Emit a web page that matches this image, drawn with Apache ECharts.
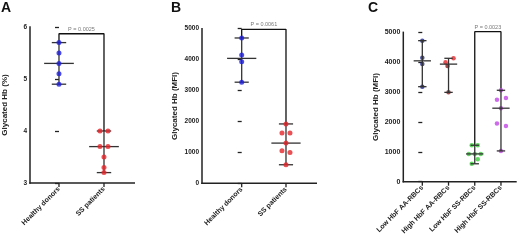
<!DOCTYPE html>
<html>
<head>
<meta charset="utf-8">
<script src="https://cdn.jsdelivr.net/npm/echarts@6.0.0/dist/echarts.min.js"></script>
<style>
  html, body { margin: 0; padding: 0; background: #fff; }
  #chart { width: 520px; height: 242px; }
</style>
</head>
<body>
<div id="chart"></div>
<script>
// panel A - glycated Hb (%)
const groupsA = ["Healthy donors", "SS patients"];
const healthyA = [5.7, 5.5, 5.3, 5.1, 4.9];
const ssA = [4.0, 4.0, 3.7, 3.7, 3.5, 3.3, 3.2];
const pTextA = "P = 0.0025";
const bracketA = 5.87;

// panel B - glycated Hb (MFI)
const groupsB = ["Healthy donors", "SS patients"];
const healthyB = [4700, 4150, 3930, 3270];
const ssB = [1920, 1630, 1630, 1300, 1050, 1000, 600];
const pTextB = "P = 0.0061";
const bracketB = 4980;

// panel C - by HbF level
const groupsC = ["Low HbF AA-RBCs", "High HbF AA-RBCs", "Low HbF SS-RBCs", "High HbF SS-RBCs"];
const lowAA = [4720, 4150, 3940, 3180];
const highAA = [4130, 4000, 3870, 2990];
const lowSS = [1220, 1220, 930, 930, 930, 750, 600];
const highSS = [3060, 2800, 2740, 2460, 1950, 1860, 1030];
const pTextC = "P = 0.0023";
const bracketC = 5020;

// horizontal scatter of the dots (px), kept apart from values
const jitA = [[0, 0, 0, 0, 0], [-4, 4, -4, 4, 0, 0, 0]];
const jitB = [[0, 0, 0, 0], [0, -4, 4, 0, -4, 4, 0]];
const jitC = [[0, 0, 0, 0], [5, -3, -1, 0], [-3, 3, -6, 0, 6, 3, -3], [0, 5, -4, 0, -4, 5, 0]];

const FONT = "Liberation Sans";
const INK = "#222";

function median(arr) {
  const s = arr.slice().sort((a, b) => a - b);
  const m = Math.floor(s.length / 2);
  return s.length % 2 ? s[m] : (s[m - 1] + s[m]) / 2;
}

// range bar + median line, widths in axis units
function errorBar(params, api) {
  const x = api.value(0);
  const lo = api.coord([x, api.value(1)]);
  const mid = api.coord([x, api.value(2)]);
  const hi = api.coord([x, api.value(3)]);
  const unit = api.size([1, 0])[0];
  const cap = unit * 0.16;
  const med = unit * 0.33;
  const style = { stroke: "#333", lineWidth: 1.3 };
  return {
    type: "group",
    children: [
      { type: "line", shape: { x1: lo[0], y1: lo[1], x2: hi[0], y2: hi[1] }, style: style },
      { type: "line", shape: { x1: hi[0] - cap, y1: hi[1], x2: hi[0] + cap, y2: hi[1] }, style: style },
      { type: "line", shape: { x1: lo[0] - cap, y1: lo[1], x2: lo[0] + cap, y2: lo[1] }, style: style },
      { type: "line", shape: { x1: mid[0] - med, y1: mid[1], x2: mid[0] + med, y2: mid[1] }, style: style },
    ],
  };
}

// L-shaped axis frame + category ticks, drawn through the grid's scales
function axisFrame(params, api) {
  const x0 = api.value(0), y0 = api.value(1), x1 = api.value(2), y1 = api.value(3), n = api.value(4);
  const o = api.coord([x0, y0]);
  const r = api.coord([x1, y0]);
  const t = api.coord([x0, y1]);
  const style = { stroke: INK, lineWidth: 1.5 };
  const kids = [
    { type: "line", shape: { x1: t[0], y1: t[1] - 0.7, x2: o[0], y2: o[1] + 0.7 }, style: style },
    { type: "line", shape: { x1: o[0] - 0.7, y1: o[1], x2: r[0], y2: r[1] }, style: style },
  ];
  for (let i = 0; i < n; i++) {
    const p = api.coord([i, y0]);
    kids.push({ type: "line", shape: { x1: p[0], y1: p[1], x2: p[0], y2: p[1] + 4 }, style: { stroke: INK, lineWidth: 1.3 } });
  }
  return { type: "group", children: kids };
}

function frame(idx, xmin, ymin, xmax, ymax, n) {
  return {
    type: "custom",
    xAxisIndex: idx,
    yAxisIndex: idx,
    z: 1,
    silent: true,
    clip: false,
    renderItem: axisFrame,
    data: [[xmin, ymin, xmax, ymax, n]],
  };
}

function dots(idx, values, jit, color, size, z) {
  return {
    type: "scatter",
    xAxisIndex: idx,
    yAxisIndex: idx,
    symbolSize: size,
    z: z,
    silent: true,
    clip: false,
    data: values.map((v, i) => ({
      value: [jit.group, v],
      symbolOffset: [jit.px[i], 0],
      itemStyle: { color: Array.isArray(color) ? color[i] : color },
    })),
  };
}

function bars(idx, groups, z) {
  return {
    type: "custom",
    xAxisIndex: idx,
    yAxisIndex: idx,
    z: z,
    silent: true,
    clip: false,
    renderItem: errorBar,
    data: groups.map((g, i) => [i, Math.min(...g), median(g), Math.max(...g)]),
  };
}

function bracket(idx, g1, v1, g2, v2, level, text) {
  return [
    {
      type: "line",
      xAxisIndex: idx,
      yAxisIndex: idx,
      symbol: "none",
      silent: true,
      clip: false,
      lineStyle: { color: "#111", width: 1.3 },
      data: [[g1, v1], [g1, level], [g2, level], [g2, v2]],
    },
    {
      type: "scatter",
      xAxisIndex: idx,
      yAxisIndex: idx,
      symbolSize: 0,
      silent: true,
      clip: false,
      label: {
        show: true,
        position: "top",
        distance: 1.5,
        formatter: text,
        fontFamily: FONT,
        fontSize: 5.5,
        color: "#555",
      },
      data: [[(g1 + g2) / 2, level]],
    },
  ];
}

function xAxis(idx, names, min, max) {
  const vals = names.map((n, i) => i);
  return {
    type: "value",
    gridIndex: idx,
    min: min,
    max: max,
    splitLine: { show: false },
    axisLine: { show: false },
    axisTick: { show: false },
    axisLabel: {
      customValues: vals,
      formatter: (v) => names[Math.round(v)],
      rotate: 45,
      margin: 5,
      fontFamily: FONT,
      fontWeight: "bold",
      fontSize: 7,
      color: INK,
    },
  };
}

function yAxis(idx, min, max, step, name, gap, fs) {
  return {
    type: "value",
    gridIndex: idx,
    min: min,
    max: max,
    interval: step,
    name: name,
    nameLocation: "middle",
    nameGap: gap,
    nameTextStyle: { fontFamily: FONT, fontWeight: "bold", fontSize: 8, color: INK },
    splitLine: { show: false },
    axisLine: { show: false },
    axisTick: { show: true, length: 4, lineStyle: { color: INK, width: 1.3 } },
    axisLabel: {
      margin: 3,
      formatter: (v) => String(v),
      fontFamily: FONT,
      fontWeight: "bold",
      fontSize: fs,
      color: INK,
    },
  };
}

const blue = "#1f1fdc";
const red = "#e3262b";

const option = {
  animation: false,
  title: [
    { text: "A", left: 1, top: 1 },
    { text: "B", left: 171, top: 1 },
    { text: "C", left: 368, top: 1 },
  ].map((t) => Object.assign(t, { padding: 0, textStyle: { fontFamily: FONT, fontWeight: "bold", fontSize: 14, color: "#111" } })),
  grid: [
    { left: 30, top: 27, right: 385, bottom: 59 },
    { left: 202, top: 28.7, right: 203, bottom: 58.7 },
    { left: 403.3, top: 32.3, right: 3.3, bottom: 60.3 },
  ],
  xAxis: [
    xAxis(0, groupsA, -0.644, 1.689),
    xAxis(1, groupsB, -0.896, 1.7),
    xAxis(2, groupsC, -0.725, 3.6),
  ],
  yAxis: [
    yAxis(0, 3, 6, 1, "Glycated Hb (%)", 21, 6.5),
    yAxis(1, 0, 5000, 1000, "Glycated Hb (MFI)", 23, 6.5),
    yAxis(2, 0, 5000, 1000, "Glycated Hb (MFI)", 24, 7),
  ],
  series: [
    frame(0, -0.644, 3, 1.689, 6, groupsA.length),
    bars(0, [healthyA, ssA], 2),
    dots(0, healthyA, { group: 0, px: jitA[0] }, blue, 5, 3),
    dots(0, ssA, { group: 1, px: jitA[1] }, red, 5, 3),
    ...bracket(0, 0, Math.max(...healthyA), 1, Math.max(...ssA), bracketA, pTextA),

    frame(1, -0.896, 0, 1.7, 5000, groupsB.length),
    bars(1, [healthyB, ssB], 2),
    dots(1, healthyB, { group: 0, px: jitB[0] }, blue, 5, 3),
    dots(1, ssB, { group: 1, px: jitB[1] }, red, 5, 3),
    ...bracket(1, 0, Math.max(...healthyB), 1, Math.max(...ssB), bracketB, pTextB),

    frame(2, -0.725, 0, 3.6, 5000, groupsC.length),
    bars(2, [lowAA, highAA, lowSS, highSS], 4),
    dots(2, lowAA, { group: 0, px: jitC[0] }, "#1c2488", 4.5, 3),
    dots(2, highAA, { group: 1, px: jitC[1] }, [red, red, "#8a1d1d", "#8a1d1d"], 4.5, 3),
    dots(2, lowSS, { group: 2, px: jitC[2] }, "#3ccf3c", 4.5, 3),
    dots(2, highSS, { group: 3, px: jitC[3] }, "#c046e6", 4.5, 3),
    ...bracket(2, 2, Math.max(...lowSS), 3, Math.max(...highSS), bracketC, pTextC),
  ],
};

const myChart = echarts.init(document.getElementById("chart"), null, { renderer: "canvas" });
myChart.setOption(option);
</script>
</body>
</html>
